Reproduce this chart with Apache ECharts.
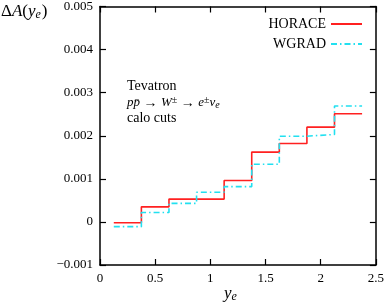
<!DOCTYPE html>
<html><head><meta charset="utf-8">
<script src="https://cdn.jsdelivr.net/npm/echarts@6/dist/echarts.min.js"></script>
<style>html,body{margin:0;padding:0;background:#fff}#c{width:387px;height:308px}</style>
</head><body><div id="c"></div>
<script>
// bin edges (y_e) and values
var binEdges = [0.125, 0.375, 0.625, 0.875, 1.125, 1.375, 1.625, 1.875, 2.125, 2.375];
var horace = [-0.00002, 0.00035, 0.00053, 0.00053, 0.00096, 0.00162, 0.00182, 0.00220, 0.00251];
var wgrad  = [-0.00011, 0.00022, 0.00043, 0.00069, 0.00082, 0.00134, 0.00199, 0.00203, 0.00269];
var seriesNames = ['HORACE', 'WGRAD'];
var xTicks = [0, 0.5, 1, 1.5, 2, 2.5];
var yTicks = [-0.001, 0, 0.001, 0.002, 0.003, 0.004, 0.005];

function stepData(vals){
  var d = [];
  for (var i = 0; i < vals.length; i++) d.push([binEdges[i], vals[i]]);
  d.push([binEdges[vals.length], vals[vals.length-1]]);
  return d;
}
var F = 'Liberation Serif, DejaVu Serif, serif';
function yFmt(v){
  if (Math.abs(v) < 1e-12) return '0';
  var s = Math.abs(v).toFixed(3);
  return (v < 0 ? '\u2212' : '') + s;
}
function xFmt(v){ return String(+v.toFixed(2)); }

var chart = echarts.init(document.getElementById('c'));
chart.setOption({
  animation: false,
  backgroundColor: '#fff',
  grid: {left: 100, right: 7.5, top: 5, bottom: 43, containLabel: false},
  legend: {
    orient: 'vertical', right: 19, top: 12, align: 'right', itemGap: 6,
    itemWidth: 31, itemHeight: 14,
    itemStyle: {opacity: 0},
    textStyle: {fontFamily: F, fontSize: 14, color: '#000'},
    data: seriesNames
  },
  xAxis: [{
    type: 'value', min: 0, max: 2.5, interval: 0.5, position: 'bottom',
    axisLine: {onZero: false, lineStyle: {color: '#000', width: 1.5}},
    axisTick: {inside: true, length: 6, lineStyle: {color: '#000', width: 1.2}},
    axisLabel: {formatter: xFmt, fontFamily: F, fontSize: 13, color: '#000', margin: 7},
    splitLine: {show: false}
  }, {
    type: 'value', min: 0, max: 2.5, interval: 0.5, position: 'top',
    axisLine: {onZero: false, lineStyle: {color: '#000', width: 1.5}},
    axisTick: {inside: true, length: 6, lineStyle: {color: '#000', width: 1.2}},
    axisLabel: {show: false}, splitLine: {show: false}
  }],
  yAxis: [{
    type: 'value', min: -0.001, max: 0.005, interval: 0.001, position: 'left',
    axisLine: {onZero: false, lineStyle: {color: '#000', width: 1.5}},
    axisTick: {inside: true, length: 6, lineStyle: {color: '#000', width: 1.2}},
    axisLabel: {formatter: yFmt, fontFamily: F, fontSize: 13, color: '#000', margin: 7},
    splitLine: {show: false}
  }, {
    type: 'value', min: -0.001, max: 0.005, interval: 0.001, position: 'right',
    axisLine: {onZero: false, lineStyle: {color: '#000', width: 1.5}},
    axisTick: {inside: true, length: 6, lineStyle: {color: '#000', width: 1.2}},
    axisLabel: {show: false}, splitLine: {show: false}
  }],
  series: [{
    name: seriesNames[0], type: 'line', step: 'end', data: stepData(horace),
    symbol: 'none', showSymbol: false,
    lineStyle: {color: '#ff2020', width: 1.6}, itemStyle: {color: '#ff2020'}
  }, {
    name: seriesNames[1], type: 'line', step: 'end', data: stepData(wgrad),
    symbol: 'none', showSymbol: false,
    lineStyle: {color: '#22e0f0', width: 1.6, type: [6, 3, 1.5, 3]}, itemStyle: {color: '#22e0f0'}
  }],
  graphic: [{
    type: 'text', left: 1, top: 3,
    style: {
      rich: {
        n: {fontFamily: F, fontSize: 17, fill: '#000'},
        i: {fontFamily: F, fontSize: 17, fontStyle: 'italic', fill: '#000'},
        s: {fontFamily: F, fontSize: 12, fontStyle: 'italic', fill: '#000', padding: [7, 1, 0, 0]}
      },
      text: '{n|\u0394}{i|A}{n|(}{i|y}{s|e}{n|)}'
    }
  }, {
    type: 'text', left: 224, top: 285,
    style: {
      rich: {
        i: {fontFamily: F, fontSize: 17, fontStyle: 'italic', fill: '#000'},
        s: {fontFamily: F, fontSize: 12, fontStyle: 'italic', fill: '#000', padding: [7, 0, 0, 0]}
      },
      text: '{i|y}{s|e}'
    }
  }, {
    type: 'text', left: 127, top: 79,
    style: {text: 'Tevatron', fontFamily: F, fontSize: 14, fill: '#000'}
  }, {
    type: 'text', left: 127, top: 95,
    style: {
      rich: {
        i: {fontFamily: F, fontSize: 13, fontStyle: 'italic', fill: '#000'},
        n: {fontFamily: F, fontSize: 14, fill: '#000'},
        p: {fontFamily: F, fontSize: 10, fill: '#000', padding: [0, 0, 6, 0]},
        b: {fontFamily: F, fontSize: 10, fontStyle: 'italic', fill: '#000', padding: [5, 0, 0, 0]}
      },
      text: '{i|pp\u0304}{n| \u2192 }{i|W}{p|\u00b1}{n| \u2192 }{i|e}{p|\u00b1}{i|\u03bd}{b|e}'
    }
  }, {
    type: 'text', left: 127, top: 111,
    style: {text: 'calo cuts', fontFamily: F, fontSize: 14, fill: '#000'}
  }]
});
</script></body></html>
